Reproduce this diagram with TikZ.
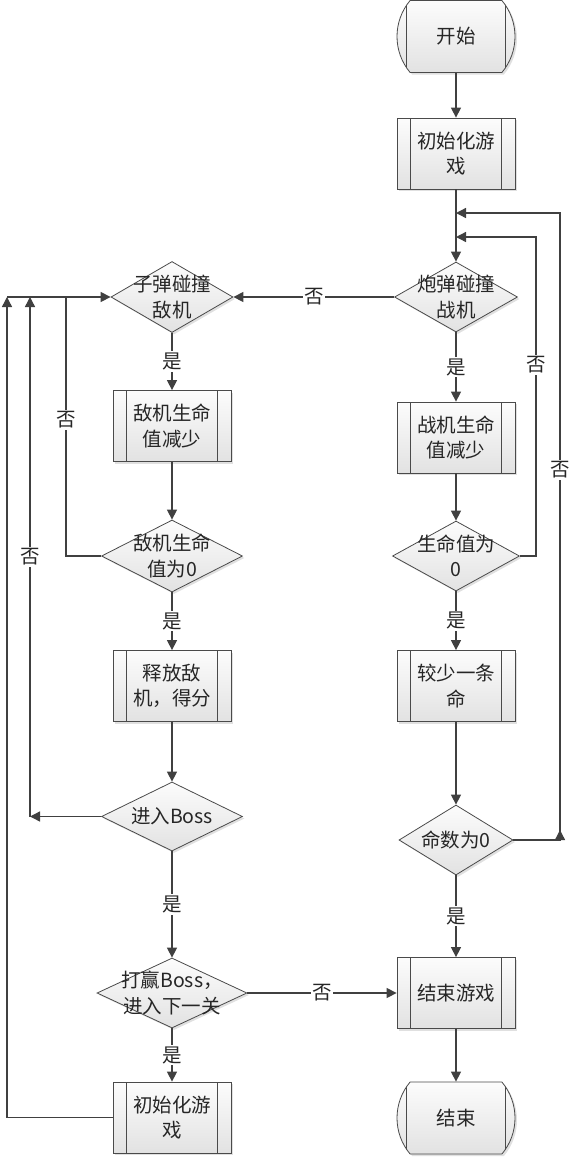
\documentclass[tikz,border=0pt]{standalone}
\usepackage{fontspec}
\setmainfont{Noto Sans CJK SC}
\usetikzlibrary{shapes.geometric,shapes.misc,arrows.meta,shadows}
\definecolor{ln}{HTML}{404040}
\definecolor{bd}{HTML}{4A4A4A}
\definecolor{ftop}{HTML}{FCFCFC}
\definecolor{fbot}{HTML}{E2E2E2}
\definecolor{tx}{HTML}{262626}
\begin{document}
\begin{tikzpicture}[x=1pt,y=-1pt,
  every node/.style={font=\fontsize{19.5}{25.5}\selectfont, text=tx},
  shp/.style={draw=bd, line width=0.8pt, top color=ftop, bottom color=fbot,
    drop shadow={shadow xshift=2pt, shadow yshift=-2pt, fill=black, opacity=0.12}},
  innerlines/.style={path picture={
    \draw[bd, line width=0.8pt]
      ([xshift=13.5pt]path picture bounding box.north west) -- ([xshift=13.5pt]path picture bounding box.south west)
      ([xshift=-13.5pt]path picture bounding box.north east) -- ([xshift=-13.5pt]path picture bounding box.south east);}},
  subp/.style={shp, rectangle, minimum width=118pt, minimum height=71pt, inner sep=0pt, align=center, innerlines},
  term/.style={shp, rounded rectangle, rounded rectangle arc length=80, minimum width=118pt, minimum height=72pt, inner sep=0pt, innerlines},
  dia/.style={shp, diamond, inner sep=0pt},
  dtext/.style={align=center, inner sep=0pt},
  yn/.style={fill=white, inner sep=1.5pt},
  line/.style={draw=ln, line width=1.4pt},
  arr/.style={line, -{Triangle[length=10pt,width=10pt]}}
]
\useasboundingbox (0,0) rectangle (570,1157);

% right column
\node[term] (start) at (456,36.5) {开始};
\node[subp] (init1) at (456,153.5) {初始化游\\戏};
\node[dia, minimum width=123pt, minimum height=70pt] (pd) at (456,297) {};
\node[dtext] (pdt) at (pd) {炮弹碰撞\\战机};
\node[subp] (zjj) at (456,437.5) {战机生命\\值减少};
\node[dia, minimum width=127pt, minimum height=70pt] (sm0) at (456,556) {};
\node[dtext] (sm0t) at (sm0) {生命值为\\0};
\node[subp] (jiaoshao) at (456,686) {较少一条\\命};
\node[dia, minimum width=114pt, minimum height=70pt] (ms0) at (456,840) {};
\node[dtext] (ms0t) at (ms0) {命数为0};
\node[subp] (endgame) at (456,993) {结束游戏};
\node[term] (end) at (456,1118) {结束};

% left column
\node[dia, minimum width=122pt, minimum height=71pt] (zd) at (172,297) {};
\node[dtext] (zdt) at (zd) {子弹碰撞\\敌机};
\node[subp] (zdj) at (172,426) {敌机生命\\值减少};
\node[dia, minimum width=141pt, minimum height=72pt] (dj0) at (172,556) {};
\node[dtext] (dj0t) at (dj0) {敌机生命\\值为0};
\node[subp] (shifang) at (172,686) {释放敌\\机，得分};
\node[dia, minimum width=141pt, minimum height=69pt] (boss) at (172,816.5) {};
\node[dtext] (bosst) at (boss) {进入Boss};
\node[dia, minimum width=150pt, minimum height=70pt] (win) at (172,993) {};
\node[dtext] (wint) at (win) {打赢Boss，\\进入下一关};
\node[subp] (init2) at (172,1117.5) {初始化游\\戏};

% junction coordinates
\coordinate (j1) at (456,213);
\coordinate (j2) at (456,237);
\coordinate (c536b) at (536,556);
\coordinate (c536t) at (536,237);
\coordinate (c560b) at (560,840);
\coordinate (c560a) at (560,830);
\coordinate (c560t) at (560,213);
\coordinate (c66b) at (66,556);
\coordinate (c66t) at (66,297);
\coordinate (c30b) at (30,816.5);
\coordinate (c30t) at (30,297);
\coordinate (c7b) at (7,1117.5);
\coordinate (c7t) at (7,297);

% right connectors
\draw[arr] (start.south) -- (init1.north);
\draw[arr] (init1.south) -- (pd.north);
\draw[arr] (pd.west) -- node[yn]{否} (zd.east);
\draw[arr] (pd.south) -- node[yn]{是} (zjj.north);
\draw[arr] (zjj.south) -- (sm0.north);
\draw[arr] (sm0.east) -- (c536b) -- node[yn,pos=0.6]{否} (c536t) -- (j2);
\draw[arr] (sm0.south) -- node[yn]{是} (jiaoshao.north);
\draw[arr] (jiaoshao.south) -- (ms0.north);
\draw[line] (ms0.east) -- (c560b);
\draw[arr] (c560b) -- (c560a);
\draw[arr] (c560b) -- node[yn,pos=0.59]{否} (c560t) -- (j1);
\draw[arr] (ms0.south) -- node[yn]{是} (endgame.north);
\draw[arr] (endgame.south) -- (end.north);

% left connectors
\draw[arr] (zd.south) -- node[yn]{是} (zdj.north);
\draw[arr] (zdj.south) -- (dj0.north);
\draw[line] (dj0.west) -- (c66b) -- node[yn,pos=0.525]{否} (c66t);
\draw[arr] (dj0.south) -- node[yn]{是} (shifang.north);
\draw[arr] (shifang.south) -- (boss.north);
\draw[arr] (boss.west) -- (c30b);
\draw[arr] (c30b) -- node[yn]{否} (c30t);
\draw[arr] (boss.south) -- node[yn]{是} (win.north);
\draw[arr] (win.east) -- node[yn]{否} (endgame.west);
\draw[arr] (win.south) -- node[yn]{是} (init2.north);
\draw[arr] (init2.west) -- (c7b) -- (c7t);
\draw[arr] (c7t) -- (zd.west);
\end{tikzpicture}
\end{document}
